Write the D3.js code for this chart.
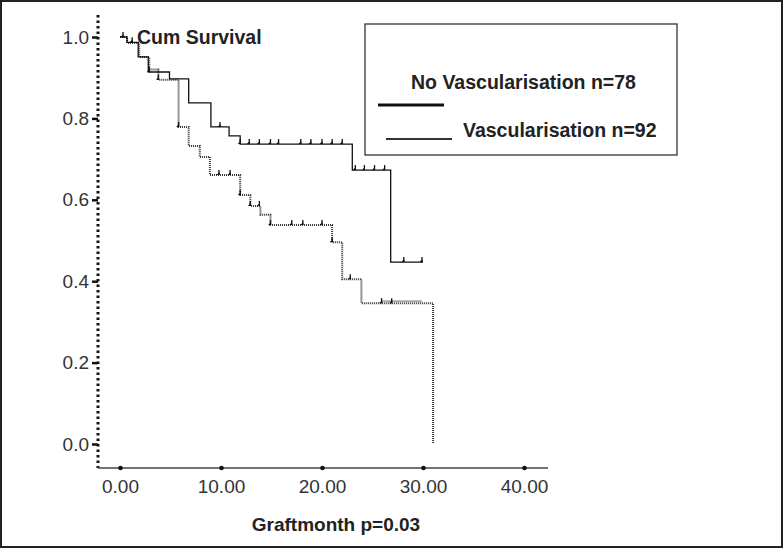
<!DOCTYPE html>
<html><head><meta charset="utf-8">
<script src="https://cdn.jsdelivr.net/npm/d3@7"></script>
<style>body{margin:0;background:#fff}svg{display:block}</style>
</head><body><svg id="c" width="784" height="549"></svg>
<script>
// Kaplan-Meier steps: [time, survival after drop]
const noVascSteps = [[0,1.0],[0.7,0.987],[1.8,0.951],[2.8,0.914],[4.9,0.897],[6.8,0.838],[9.0,0.779],[10.8,0.757],[11.9,0.737],[23.0,0.673],[26.8,0.447]];
const noVascEnd = 30.0;
const noVascCensor = [0.3,1.2,2.9,9.9,11.9,12.8,13.8,14.9,15.7,17.9,18.9,20.0,21.0,22.0,23.3,24.2,25.2,26.2,28.1,29.9];
const vascSteps = [[0,1.0],[0.7,0.985],[1.9,0.951],[2.9,0.92],[3.8,0.895],[5.8,0.779],[6.8,0.732],[7.9,0.705],[8.9,0.661],[11.9,0.612],[12.9,0.585],[13.9,0.563],[14.9,0.538],[21.0,0.496],[22.0,0.405],[23.9,0.346],[31.0,0.0]];
const vascCensor = [3.8,5.8,9.8,10.9,11.9,12.9,13.8,14.9,17.0,18.1,20.0,21.0,22.8,25.9,26.9];
const vascTail = [[25.9,0.351],[29.9,0.351]];
const xTicks = [0,10,20,30,40];
const yTicks = [0,0.2,0.4,0.6,0.8,1.0];
const legendLabels = ["No Vascularisation n=78","Vascularisation n=92"];

const FONT = "Liberation Sans, Arial, sans-serif";
const svg = d3.select("#c");
const x = d3.scaleLinear().domain([0,40]).range([120,524]);
const y = d3.scaleLinear().domain([0,1]).range([444,37]);

svg.append("rect").attr("x",1).attr("y",1).attr("width",781).attr("height",546)
  .attr("fill","none").attr("stroke","#222").attr("stroke-width",2);

// y axis dotted
svg.append("line").attr("x1",98).attr("x2",98).attr("y1",15).attr("y2",468)
  .attr("stroke","#111").attr("stroke-width",3).attr("stroke-dasharray","2.5,3");
// x axis
svg.append("line").attr("x1",98).attr("x2",548).attr("y1",468).attr("y2",468)
  .attr("stroke","#444").attr("stroke-width",1.3);

const yAxis = d3.axisLeft(y).tickValues(yTicks).tickFormat(d3.format(".1f")).tickSize(6).tickPadding(3);
const ya = svg.append("g").attr("transform","translate(98,0)").call(yAxis);
ya.select(".domain").remove();
ya.selectAll(".tick line").attr("stroke","#111").attr("stroke-width",2.5);
ya.selectAll("text").attr("font-family",FONT).attr("font-size",19).attr("fill","#333");

const xAxis = d3.axisBottom(x).tickValues(xTicks).tickFormat(d3.format(".2f")).tickSize(0).tickPadding(12);
const xa = svg.append("g").attr("transform","translate(0,468)").call(xAxis);
xa.select(".domain").remove();
xa.selectAll(".tick").append("circle").attr("r",2.3).attr("fill","#111");
xa.selectAll("text").attr("font-family",FONT).attr("font-size",19).attr("fill","#333");

svg.append("text").attr("x",336).attr("y",531).attr("text-anchor","middle")
  .attr("font-family",FONT).attr("font-size",19).attr("font-weight","bold").attr("fill","#222")
  .text("Graftmonth p=0.03");
svg.append("text").attr("x",137).attr("y",44)
  .attr("font-family",FONT).attr("font-size",19.5).attr("font-weight","bold").attr("fill","#222")
  .text("Cum Survival");

function stepPts(steps,end){
  const pts=[];
  steps.forEach((s,i)=>{
    if(i>0) pts.push([s[0],steps[i-1][1]]);
    pts.push(s);
  });
  if(end!==undefined) pts.push([end,steps[steps.length-1][1]]);
  return pts;
}
const line = d3.line().x(d=>x(d[0])).y(d=>y(d[1]));
function survAt(steps,t){let v=steps[0][1];steps.forEach(s=>{if(s[0]<=t)v=s[1];});return v;}

// vascularisation dotted
svg.append("path").attr("d",line(stepPts(vascSteps))).attr("fill","none")
  .attr("stroke","#333").attr("stroke-width",2).attr("stroke-dasharray","1,1");
svg.append("path").attr("d",line(vascTail)).attr("fill","none").attr("stroke","#888").attr("stroke-width",1.3);
// no vasc solid
svg.append("path").attr("d",line(stepPts(noVascSteps,noVascEnd))).attr("fill","none")
  .attr("stroke","#111").attr("stroke-width",1.3);

function censor(ts,steps){
  ts.forEach(t=>{
    const s=survAt(steps,t);
    const g=svg.append("g").attr("transform",`translate(${x(t)},${y(s)})`);
    g.append("line").attr("x1",0).attr("x2",0).attr("y1",0).attr("y2",-5).attr("stroke","#111").attr("stroke-width",1.3);
    g.append("path").attr("d","M-2.5,0 L0.5,0 L0.5,-3 Z").attr("fill","#111");
  });
}
censor(noVascCensor,noVascSteps);
censor(vascCensor,vascSteps);

// legend
svg.append("rect").attr("x",365).attr("y",24).attr("width",312).attr("height",131)
  .attr("fill","none").attr("stroke","#333").attr("stroke-width",1.3);
svg.append("text").attr("x",411).attr("y",89).attr("font-family",FONT)
  .attr("font-size",19.5).attr("font-weight","bold").attr("fill","#222").text(legendLabels[0]);
svg.append("line").attr("x1",378).attr("x2",444).attr("y1",105).attr("y2",105).attr("stroke","#111").attr("stroke-width",3);
svg.append("text").attr("x",463).attr("y",137).attr("font-family",FONT)
  .attr("font-size",19.5).attr("font-weight","bold").attr("fill","#222").text(legendLabels[1]);
svg.append("line").attr("x1",386).attr("x2",452).attr("y1",139).attr("y2",139).attr("stroke","#333").attr("stroke-width",2);
</script></body></html>
